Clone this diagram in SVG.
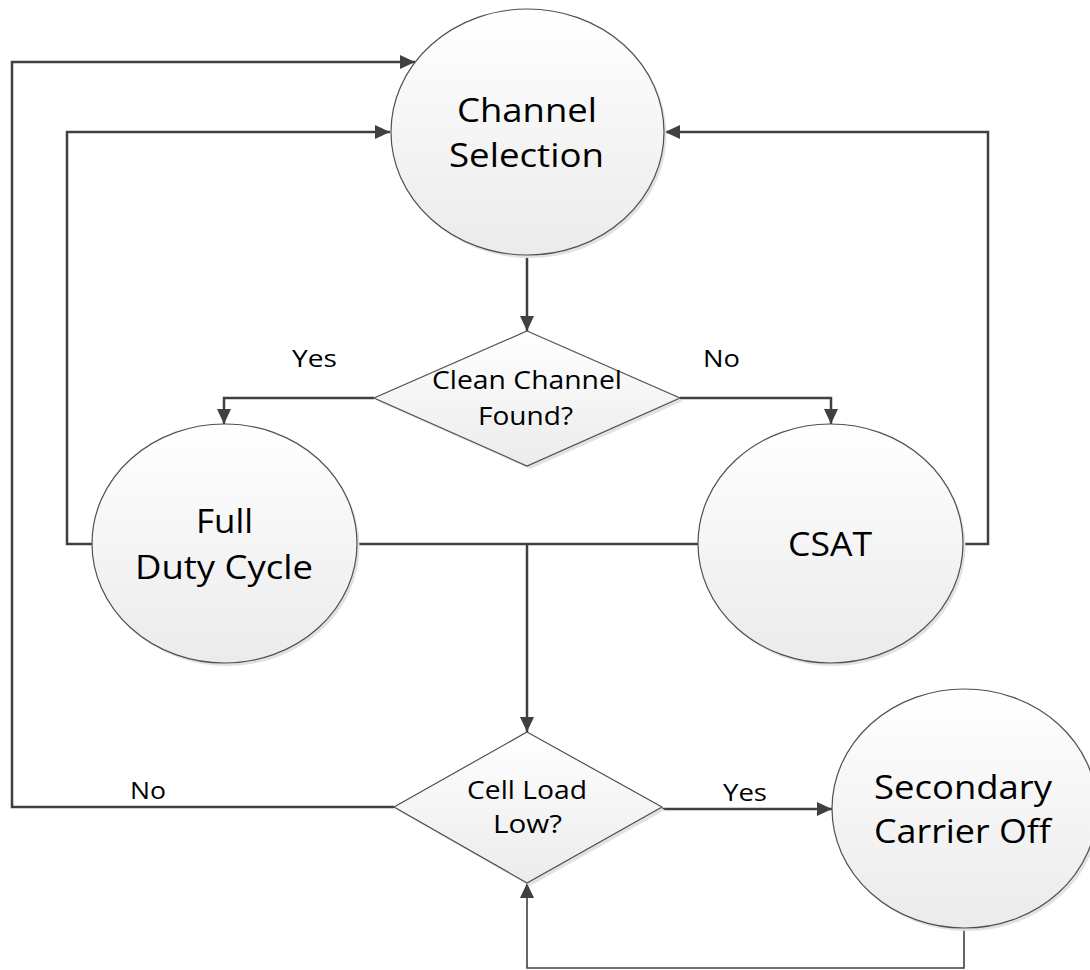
<svg xmlns="http://www.w3.org/2000/svg" width="1090" height="970" viewBox="0 0 1090 970">
<defs>
<linearGradient id="g" x1="0" y1="0" x2="0" y2="1">
<stop offset="0" stop-color="#ffffff"/>
<stop offset="1" stop-color="#ebebeb"/>
</linearGradient>
<marker id="ah" markerUnits="userSpaceOnUse" markerWidth="16" markerHeight="14" refX="15" refY="7" orient="auto">
<path d="M0,0 L15,7 L0,14 z" fill="#404040"/>
</marker>
<style>
.shape{fill:url(#g);stroke:#505050;stroke-width:1.2}
.shadow{fill:#e2e2e2;stroke:none}
.conn{fill:none;stroke:#404040;stroke-width:2.5}
.thin{fill:none;stroke:#404040;stroke-width:1.6}
text{font-family:"Open Sans","Noto Sans","Liberation Sans",sans-serif;fill:#000;text-anchor:middle}
.big{font-size:33px}
.mid{font-size:25px}
.lbl{font-size:24px}
</style>
</defs>
<rect width="1090" height="970" fill="#ffffff"/>
<g id="connectors">
<polyline class="conn" points="12,805 12,62 415,62" marker-end="url(#ah)"/>
<polyline class="conn" points="92,544 67,544 67,132 390,132" marker-end="url(#ah)"/>
<polyline class="conn" points="963,544 988,544 988,132 665,132" marker-end="url(#ah)"/>
<line class="conn" x1="527" y1="255" x2="527" y2="331" marker-end="url(#ah)"/>
<polyline class="conn" points="374,398 224,398 224,424" marker-end="url(#ah)"/>
<polyline class="conn" points="680,398 831,398 831,424" marker-end="url(#ah)"/>
<line class="conn" x1="357" y1="544" x2="698" y2="544"/>
<line class="conn" x1="527" y1="544" x2="527" y2="732" marker-end="url(#ah)"/>
<polyline class="conn" points="394,807 12,807 12,804"/>
<line class="conn" x1="662" y1="809" x2="832" y2="809" marker-end="url(#ah)"/>
<polyline class="thin" points="964,928 964,968 527,968 527,883" marker-end="url(#ah)"/>
<text class="lbl" x="314.5" y="367" textLength="45" lengthAdjust="spacingAndGlyphs">Yes</text>
<text class="lbl" x="721.5" y="367" textLength="37" lengthAdjust="spacingAndGlyphs">No</text>
<text class="lbl" x="148" y="799" textLength="36" lengthAdjust="spacingAndGlyphs">No</text>
<text class="lbl" x="745" y="801" textLength="44" lengthAdjust="spacingAndGlyphs">Yes</text>
</g>
<g id="channel-selection">
<ellipse class="shadow" cx="530" cy="135" rx="136.5" ry="123"/>
<ellipse class="shape" cx="527.5" cy="132" rx="136.5" ry="123"/>
<text class="big" x="527" y="122" textLength="140" lengthAdjust="spacingAndGlyphs">Channel</text>
<text class="big" x="526.5" y="167" textLength="155" lengthAdjust="spacingAndGlyphs">Selection</text>
</g>
<g id="clean-channel-found">
<polygon class="shadow" points="530,334 683,401 530,469 377,401"/>
<polygon class="shape" points="527,331 680,398 527,466 374,398"/>
<text class="mid" x="527" y="389" textLength="190" lengthAdjust="spacingAndGlyphs">Clean Channel</text>
<text class="mid" x="525.5" y="425" textLength="95" lengthAdjust="spacingAndGlyphs">Found?</text>
</g>
<g id="full-duty-cycle">
<ellipse class="shadow" cx="227" cy="546.5" rx="132.5" ry="119.5"/>
<ellipse class="shape" cx="224.5" cy="543.5" rx="132.5" ry="119.5"/>
<text class="big" x="224.5" y="533" textLength="57" lengthAdjust="spacingAndGlyphs">Full</text>
<text class="big" x="224" y="579" textLength="178" lengthAdjust="spacingAndGlyphs">Duty Cycle</text>
</g>
<g id="csat">
<ellipse class="shadow" cx="833" cy="546.5" rx="132.5" ry="119.5"/>
<ellipse class="shape" cx="830.5" cy="543.5" rx="132.5" ry="119.5"/>
<text class="big" x="830" y="556" textLength="84" lengthAdjust="spacingAndGlyphs">CSAT</text>
</g>
<g id="cell-load-low">
<polygon class="shadow" points="530,735 665,810 530,886 397,810"/>
<polygon class="shape" points="527,732 662,807 527,883 394,807"/>
<text class="mid" x="527" y="799" textLength="120" lengthAdjust="spacingAndGlyphs">Cell Load</text>
<text class="mid" x="527.5" y="833" textLength="69" lengthAdjust="spacingAndGlyphs">Low?</text>
</g>
<g id="secondary-carrier-off">
<ellipse class="shadow" cx="967" cy="811.5" rx="132.5" ry="119.5"/>
<ellipse class="shape" cx="964.5" cy="808.5" rx="132.5" ry="119.5"/>
<text class="big" x="963" y="799" textLength="178" lengthAdjust="spacingAndGlyphs">Secondary</text>
<text class="big" x="962.5" y="843" textLength="177" lengthAdjust="spacingAndGlyphs">Carrier Off</text>
</g>
</svg>
